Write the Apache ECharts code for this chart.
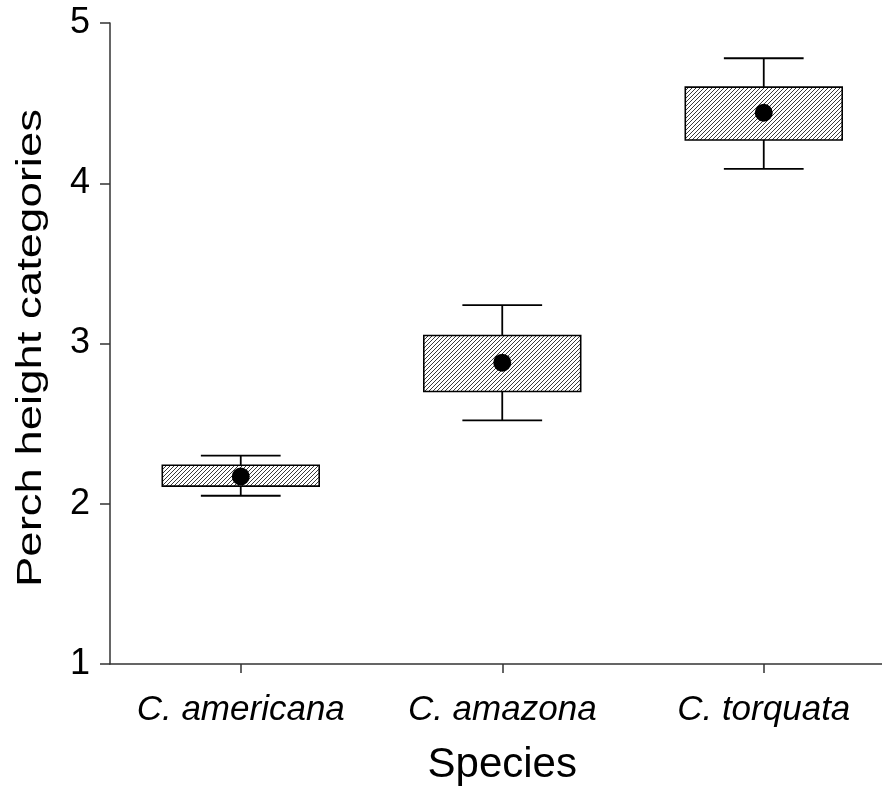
<!DOCTYPE html>
<html>
<head>
<meta charset="utf-8">
<script src="https://cdn.jsdelivr.net/npm/echarts@6/dist/echarts.min.js"></script>
<style>html,body{margin:0;padding:0;background:#fff}#c{width:882px;height:790px}</style>
</head>
<body>
<div id="c"></div>
<script>
var categories = ['C. americana', 'C. amazona', 'C. torquata'];
var whiskerLow = [2.05, 2.52, 4.09];
var boxLow = [2.11, 2.70, 4.27];
var boxHigh = [2.24, 3.05, 4.60];
var whiskerHigh = [2.30, 3.24, 4.78];
var means = [2.17, 2.88, 4.44];
var yTicks = [1, 2, 3, 4, 5];

var FONT = '"Liberation Sans", Arial, sans-serif';

// hatch pattern
var tile = document.createElement('canvas');
tile.width = 4; tile.height = 4;
var tc = tile.getContext('2d');
tc.fillStyle = '#fff'; tc.fillRect(0, 0, 4, 4);
tc.strokeStyle = '#3a3a3a'; tc.lineWidth = 1;
tc.beginPath();
tc.moveTo(-1, 5); tc.lineTo(5, -1);
tc.moveTo(-3, 3); tc.lineTo(3, -3);
tc.moveTo(1, 7); tc.lineTo(7, 1);
tc.stroke();
var hatch = { image: tile, repeat: 'repeat' };

var boxData = categories.map(function (c, i) {
  return [i, whiskerLow[i], boxLow[i], boxHigh[i], whiskerHigh[i]];
});
var meanData = categories.map(function (c, i) { return [i, means[i]]; });

var chart = echarts.init(document.getElementById('c'), null, { renderer: 'canvas' });
chart.setOption({
  animation: false,
  backgroundColor: '#fff',
  grid: { left: 110, width: 784.5, top: 23, height: 641, outerBoundsMode: 'none', containLabel: false },
  xAxis: {
    type: 'category',
    data: categories,
    boundaryGap: true,
    name: 'Species',
    nameLocation: 'middle',
    nameGap: 80,
    nameTextStyle: { fontFamily: FONT, fontSize: 42, color: '#000' },
    axisLine: { lineStyle: { color: '#333', width: 1.5 } },
    axisTick: { show: true, alignWithLabel: true, interval: 0, length: 9, lineStyle: { color: '#333', width: 1.5 } },
    axisLabel: { interval: 0, fontFamily: FONT, fontSize: 35, fontStyle: 'italic', color: '#000', margin: 29 },
    splitLine: { show: false }
  },
  yAxis: {
    type: 'value',
    min: yTicks[0], max: yTicks[yTicks.length - 1], interval: 1,
    axisLine: { show: true, lineStyle: { color: '#333', width: 1.5 } },
    axisTick: { show: true, length: 10, lineStyle: { color: '#333', width: 1.5 } },
    axisLabel: { fontFamily: FONT, fontSize: 36, color: '#000', margin: 20 },
    splitLine: { show: false }
  },
  graphic: [{
    type: 'text',
    x: 14, y: 348,
    rotation: Math.PI / 2,
    scaleX: 1.3,
    style: {
      text: 'Perch height categories',
      font: '35px "Liberation Sans", Arial, sans-serif',
      fill: '#000',
      align: 'center',
      verticalAlign: 'top'
    }
  }],
  series: [{
    type: 'custom',
    data: boxData,
    encode: { x: 0, y: [1, 2, 3, 4] },
    renderItem: function (params, api) {
      var idx = api.value(0);
      var band = api.size([1, 0])[0];
      var bw = band * 0.6, cw = band * 0.305;
      var pWL = api.coord([idx, api.value(1)]);
      var pBL = api.coord([idx, api.value(2)]);
      var pBH = api.coord([idx, api.value(3)]);
      var pWH = api.coord([idx, api.value(4)]);
      var x = pWL[0];
      var ls = { stroke: '#000', lineWidth: 1.8 };
      return {
        type: 'group',
        children: [
          { type: 'line', shape: { x1: x, y1: pWH[1], x2: x, y2: pBH[1] }, style: ls },
          { type: 'line', shape: { x1: x, y1: pBL[1], x2: x, y2: pWL[1] }, style: ls },
          { type: 'line', shape: { x1: x - cw / 2, y1: pWH[1], x2: x + cw / 2, y2: pWH[1] }, style: ls },
          { type: 'line', shape: { x1: x - cw / 2, y1: pWL[1], x2: x + cw / 2, y2: pWL[1] }, style: ls },
          { type: 'rect', shape: { x: x - bw / 2, y: pBH[1], width: bw, height: pBL[1] - pBH[1] },
            style: { fill: hatch, stroke: '#000', lineWidth: 1.6 } }
        ]
      };
    },
    z: 2
  }, {
    type: 'scatter',
    data: meanData,
    symbol: 'circle',
    symbolSize: 18,
    itemStyle: { color: '#000', opacity: 1 },
    z: 5
  }]
});
</script>
</body>
</html>
